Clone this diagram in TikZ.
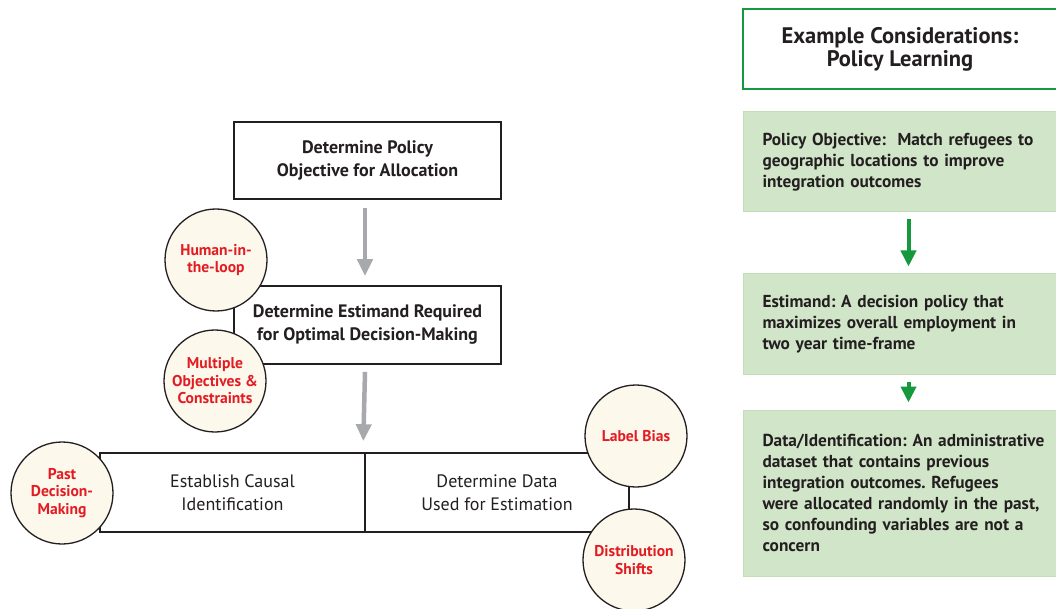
\documentclass[tikz,border=0pt]{standalone}
\usepackage{fontspec}
\setmainfont{PT Sans}
\usetikzlibrary{arrows.meta}
\frenchspacing

\definecolor{ink}{HTML}{231F20}
\definecolor{cream}{HTML}{FDF8EC}
\definecolor{alert}{HTML}{E31B23}
\definecolor{flowgray}{HTML}{A7A9AC}
\definecolor{leaf}{HTML}{16993C}
\definecolor{mint}{HTML}{D1E5C8}
\definecolor{mintline}{HTML}{C3DDB9}

\tikzset{
  stepbox/.style={draw=ink, line width=1.6pt, fill=white, text=ink, align=center,
    font=\bfseries\fontsize{18}{23}\selectfont, inner sep=0pt},
  bubble/.style={circle, draw=ink, line width=1.3pt, fill=cream, minimum size=102pt,
    text=alert, align=center, inner sep=0pt, font=\bfseries\fontsize{15.6}{17.5}\selectfont},
  titlebox/.style={draw=leaf, line width=2.6pt, fill=white, text=ink, align=center,
    font=\bfseries\fontsize{22.5}{23}\selectfont, inner sep=0pt},
  note/.style={fill=mint, draw=mintline, line width=1pt, text=ink, align=left,
    text width=292pt, inner xsep=19pt, inner ysep=0pt, anchor=west,
    font=\bfseries\fontsize{17.3}{21}\selectfont},
  flowarrow/.style={draw=flowgray, line width=4.5pt, -{Triangle[length=17pt,width=15pt]}},
  greenarrow/.style={draw=leaf, line width=4pt, -{Triangle[length=16pt,width=15pt]}}
}

\begin{document}
\begin{tikzpicture}[x=1pt,y=-1pt]
\useasboundingbox (0,0) rectangle (1056,609);

% main flow
\node[stepbox, minimum width=267pt, minimum height=77pt] (policy) at (367.5,160.5)
  {Determine Policy\\Objective for Allocation};
\node[stepbox, minimum width=267pt, minimum height=78pt] (estimand) at (367.5,325)
  {Determine Estimand Required\\for Optimal Decision-Making};
\node[stepbox, minimum width=265pt, minimum height=79pt,
      font=\fontsize{18}{23}\selectfont] (causal) at (232.5,492.5)
  {Establish Causal\\Identification};
\node[stepbox, minimum width=264pt, minimum height=79pt,
      font=\fontsize{18}{23}\selectfont] (data) at (497,492.5)
  {Determine Data\\Used for Estimation};

\draw[flowarrow] ([xshift=-2.5pt,yshift=-8pt]policy.south) -- ([xshift=-2.5pt,yshift=9pt]estimand.north);
\draw[flowarrow] ([xshift=-2.5pt,yshift=-7pt]estimand.south) -- ([xshift=-2.5pt,yshift=11pt]causal.north east);

% considerations
\node[bubble] (human) at (216,260) {Human-in-\\the-loop};
\node[bubble] (multi) at (215,381) {Multiple\\Objectives \&\\Constraints};
\node[bubble] (past) at (62,493) {Past\\Decision-\\Making};
\node[bubble] (label) at (636,436) {Label Bias};
\node[bubble] (shift) at (634,560) {Distribution\\Shifts};

% example panel
\node[titlebox, minimum width=314pt, minimum height=80pt] (title) at (900,49)
  {Example Considerations:\\Policy Learning};
\node[note, minimum height=100pt] (exobjective) at (743,162)
  {Policy Objective:\ \ Match refugees to\\geographic locations to improve\\integration outcomes};
\node[note, minimum height=100pt] (exestimand) at (743,324)
  {Estimand: A decision policy that\\maximizes overall employment in\\two year time-frame};
\node[note, minimum height=166pt] (exdata) at (743,493)
  {Data/Identification: An administrative\\dataset that contains previous\\integration outcomes. Refugees\\were allocated randomly in the past,\\so confounding variables are not a\\concern};

\draw[greenarrow] ([yshift=-7pt]exobjective.south) -- ([yshift=7pt]exestimand.north);
\draw[greenarrow] ([yshift=-7pt]exestimand.south) -- ([yshift=7pt]exdata.north);
\end{tikzpicture}
\end{document}
